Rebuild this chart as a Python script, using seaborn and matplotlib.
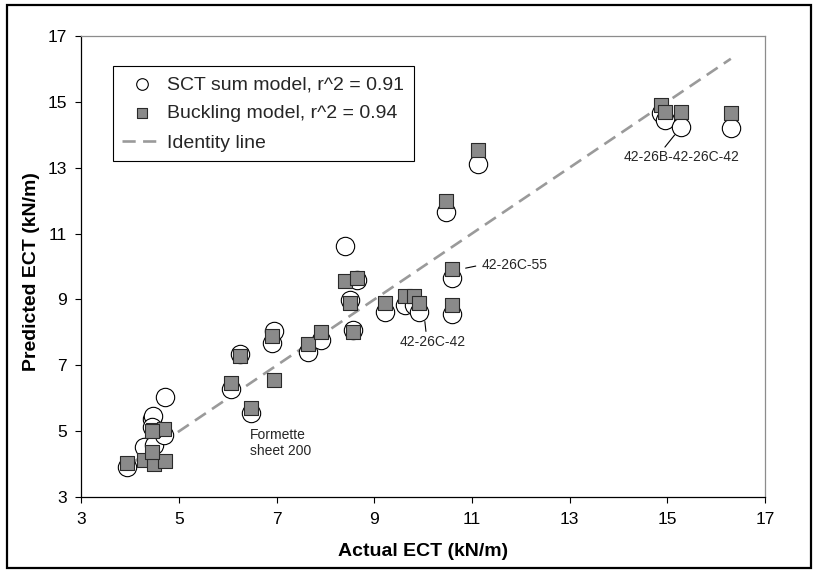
import matplotlib
matplotlib.use('Agg')
import matplotlib.pyplot as plt
from matplotlib.patches import Rectangle
import seaborn as sns
import pandas as pd

# Valores (kN/m)
actual = [3.93, 4.28, 4.49, 4.71, 4.45, 4.47, 4.69, 4.44, 6.06, 6.25, 6.47, 6.90, 6.95,
          7.64, 7.91, 8.40, 8.65, 8.50, 8.56, 9.22, 9.62, 9.82, 9.91, 10.60, 10.60,
          10.46, 11.13, 14.88, 14.95, 15.28, 16.30]
sct_sum = [3.93, 4.52, 4.60, 6.05, 5.37, 5.47, 4.89, 5.14, 6.28, 7.35, 5.57, 7.67, 8.05,
           7.41, 7.78, 10.63, 9.59, 8.98, 8.07, 8.63, 8.83, 8.83, 8.61, 9.64, 8.56,
           11.66, 13.11, 14.65, 14.44, 14.24, 14.19]
buckling = [4.03, 4.13, 4.00, 4.11, 4.36, 5.04, 5.06, 5.00, 6.48, 7.29, 5.72, 7.89, 6.56,
            7.65, 8.02, 9.57, 9.64, 8.90, 8.02, 8.90, 9.10, 9.10, 8.90, 9.92, 8.83,
            12.00, 13.53, 14.90, 14.70, 14.70, 14.65]
ticks = [3, 5, 7, 9, 11, 13, 15, 17]

df = pd.DataFrame({'actual': actual, 'sct': sct_sum, 'buck': buckling})
identidade = [min(actual), max(actual)]

sns.set_theme(style='white')
plt.rcParams['font.family'] = ['Liberation Sans', 'DejaVu Sans']

fig = plt.figure(figsize=(8.21, 5.72), dpi=100)
ax = fig.add_axes([0.099, 0.1306, 0.8328, 0.807])

# Linha identidade
sns.lineplot(x=identidade, y=identidade, color='#9a9a9a', lw=1.9,
             linestyle=(0, (5, 2.8)), label='Identity line', ax=ax, zorder=2)
# Modelos
sns.scatterplot(data=df, x='actual', y='sct', marker='o', s=175, color='white',
                edgecolor='black', linewidth=0.8, label='SCT sum model, r^2 = 0.91',
                ax=ax, zorder=3)
sns.scatterplot(data=df, x='actual', y='buck', marker='s', s=95, color='#8a8a8a',
                edgecolor='#2a2a2a', linewidth=0.8, label='Buckling model, r^2 = 0.94',
                ax=ax, zorder=4)

ax.set_xlim(3, 17)
ax.set_ylim(3, 17)
ax.set_xticks(ticks)
ax.set_yticks(ticks)
ax.tick_params(bottom=True, left=True, direction='out', length=4.5, width=0.8,
               color='black', labelsize=12.5, pad=6, labelcolor='black')
for s in ['left', 'bottom']:
    ax.spines[s].set_color('black')
    ax.spines[s].set_linewidth(0.9)
for s in ['top', 'right']:
    ax.spines[s].set_color('#8c8c8c')
    ax.spines[s].set_linewidth(0.9)

ax.set_xlabel('Actual ECT (kN/m)', fontsize=14, fontweight='bold', color='black', va='center')
ax.set_ylabel('Predicted ECT (kN/m)', fontsize=14, fontweight='bold', color='black', va='center')
ax.xaxis.set_label_coords(0.5, -0.1185)
ax.yaxis.set_label_coords(-0.0725, 0.49)

# Legenda
h, l = ax.get_legend_handles_labels()
ordem = [1, 2, 0]
leg = ax.legend([h[i] for i in ordem], [l[i] for i in ordem], loc='upper left',
                bbox_to_anchor=(0.046, 0.935), borderaxespad=0, fancybox=False,
                edgecolor='black', framealpha=1, fontsize=14, borderpad=0.5,
                labelspacing=0.6, handlelength=2.0, handletextpad=0.3)
leg.get_frame().set_linewidth(0.8)
leg.legend_handles[0].set_sizes([70])
leg.legend_handles[1].set_sizes([62])

# Anotações
seta = dict(arrowstyle='-', color='black', lw=0.8, shrinkA=0, shrinkB=0)
ax.annotate('42-26B-42-26C-42', xy=(15.15, 13.99), xytext=(15.30, 13.31),
            ha='center', va='center', fontsize=10,
            arrowprops=dict(seta, relpos=(0.33, 1.0)))
ax.annotate('42-26C-55', xy=(10.87, 9.95), xytext=(11.20, 10.05),
            ha='left', va='center', fontsize=10,
            arrowprops=dict(seta, relpos=(0.0, 0.5), shrinkA=2))
ax.annotate('42-26C-42', xy=(10.035, 8.33), xytext=(10.20, 7.72),
            ha='center', va='center', fontsize=10,
            arrowprops=dict(seta, relpos=(0.40, 1.0)))
ax.text(6.45, 4.64, 'Formette\nsheet 200', ha='left', va='center', fontsize=10)

# Moldura externa
fig.add_artist(Rectangle((7 / 821, 4 / 572), 804 / 821, 563 / 572, transform=fig.transFigure,
                         fill=False, lw=1.6, edgecolor='black'))

fig.savefig('out.png', dpi=100)
